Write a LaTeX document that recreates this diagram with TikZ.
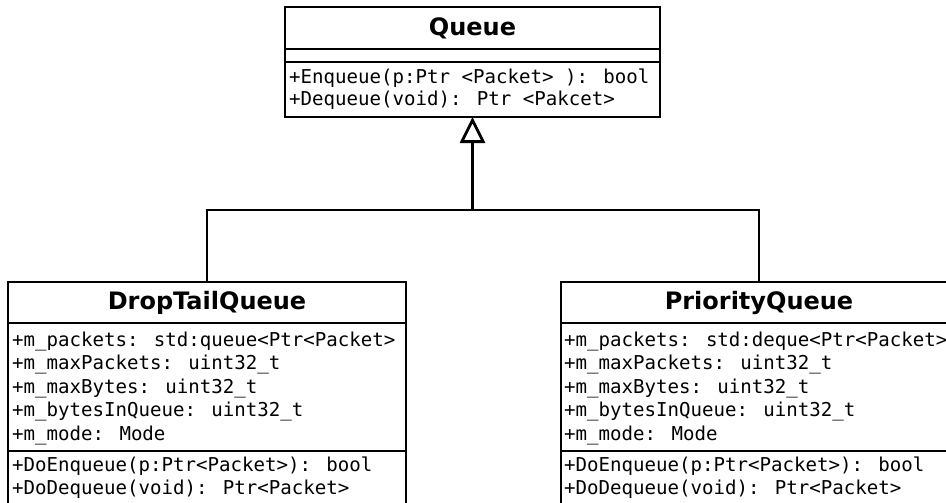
\documentclass[tikz,border=0pt]{standalone}
\usepackage{fontspec}
\setmainfont{DejaVu Sans}
\newfontfamily\monof{DejaVu Sans Mono}
\usetikzlibrary{arrows.meta}
\begin{document}
\begin{tikzpicture}[x=1pt,y=-1pt,
  comp/.style={draw, line width=2.8pt, inner sep=0pt, outer sep=0pt, anchor=north west},
  head/.style={comp, font=\bfseries\fontsize{24}{28}\selectfont},
  txt/.style={inner sep=0pt, anchor=base west, font=\monof\fontsize{19.1}{23}\selectfont},
  conn/.style={line width=2.8pt},
]
\useasboundingbox (0,0) rectangle (946,503);
\clip (0,0) rectangle (946,503);
\fill[white] (0,0) rectangle (946,503);

% Queue
\node[head, minimum width=375pt, minimum height=42pt] (qh) at (285,7) {Queue};
\node[comp, minimum width=375pt, minimum height=13pt] (qa) at (qh.south west) {};
\node[comp, minimum width=375pt, minimum height=55pt] (qo) at (qa.south west) {};
\node[txt] (q1) at (289,83.5) {+Enqueue(p:Ptr <Packet> ): bool};
\node[txt] (q2) at (289,105.5) {+Dequeue(void): Ptr <Pakcet>};

% DropTailQueue
\node[head, minimum width=398pt, minimum height=41pt] (dh) at (8,282) {DropTailQueue};
\node[comp, minimum width=398pt, minimum height=128pt] (da) at (dh.south west) {};
\node[comp, minimum width=398pt, minimum height=70pt] (do) at (da.south west) {};
\node[txt] (d1) at (12,346) {+m\_packets: std:queue<Ptr<Packet>};
\node[txt] (d2) at (12,369.5) {+m\_maxPackets: uint32\_t};
\node[txt] (d3) at (12,393) {+m\_maxBytes: uint32\_t};
\node[txt] (d4) at (12,416.5) {+m\_bytesInQueue: uint32\_t};
\node[txt] (d5) at (12,440) {+m\_mode: Mode};
\node[txt] (d6) at (12,471) {+DoEnqueue(p:Ptr<Packet>): bool};
\node[txt] (d7) at (12,494.5) {+DoDequeue(void): Ptr<Packet>};

% PriorityQueue
\node[head, minimum width=396pt, minimum height=41pt] (ph) at (561,282) {PriorityQueue};
\node[comp, minimum width=396pt, minimum height=128pt] (pa) at (ph.south west) {};
\node[comp, minimum width=396pt, minimum height=70pt] (po) at (pa.south west) {};
\node[txt] (p1) at (564,346) {+m\_packets: std:deque<Ptr<Packet>};
\node[txt] (p2) at (564,369.5) {+m\_maxPackets: uint32\_t};
\node[txt] (p3) at (564,393) {+m\_maxBytes: uint32\_t};
\node[txt] (p4) at (564,416.5) {+m\_bytesInQueue: uint32\_t};
\node[txt] (p5) at (564,440) {+m\_mode: Mode};
\node[txt] (p6) at (564,471) {+DoEnqueue(p:Ptr<Packet>): bool};
\node[txt] (p7) at (564,494.5) {+DoDequeue(void): Ptr<Packet>};

% Generalization
\coordinate (junc) at (qo.south |- 0,210);
\draw[conn] (dh.north) |- (junc) -| (ph.north);
\draw[conn, -{Triangle[open, length=26pt, width=25pt, line width=2.8pt]}] (junc) -- (qo.south);
\end{tikzpicture}
\end{document}
